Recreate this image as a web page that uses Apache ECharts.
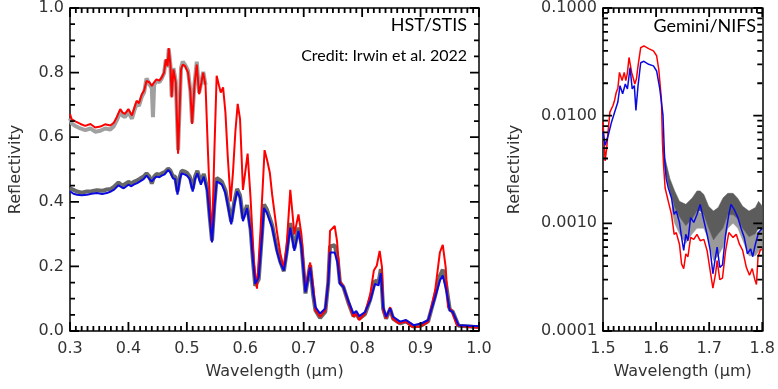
<!DOCTYPE html>
<html><head><meta charset="utf-8">
<script src="https://cdn.jsdelivr.net/npm/echarts@6/dist/echarts.min.js"></script>
<style>html,body{margin:0;padding:0;background:#fff}#c{width:778px;height:389px}</style>
</head><body><div id="c"></div>
<script>
// ---------------- HST/STIS panel (linear) ----------------
const stisXTicks = [0.3, 0.4, 0.5, 0.6, 0.7, 0.8, 0.9, 1.0];
const stisYTicks = [0.0, 0.2, 0.4, 0.6, 0.8, 1.0];

const stisRedX = [0.300,0.303,0.310,0.318,0.326,0.335,0.343,0.352,0.360,0.369,0.375,0.380,0.386,0.390,0.394,0.400,0.406,0.410,0.414,0.418,0.423,0.427,0.431,0.436,0.440,0.444,0.448,0.453,0.457,0.461,0.464,0.467,0.469,0.472,0.474,0.477,0.481,0.485,0.490,0.493,0.497,0.502,0.506,0.509,0.513,0.517,0.521,0.525,0.528,0.532,0.536,0.540,0.543,0.547,0.551,0.555,0.558,0.562,0.566,0.570,0.575,0.579,0.583,0.587,0.591,0.596,0.600,0.604,0.609,0.615,0.620,0.626,0.633,0.638,0.642,0.646,0.654,0.660,0.666,0.671,0.677,0.681,0.684,0.691,0.696,0.703,0.711,0.717,0.720,0.728,0.737,0.742,0.745,0.753,0.757,0.762,0.768,0.777,0.785,0.790,0.795,0.805,0.814,0.820,0.825,0.830,0.834,0.836,0.841,0.848,0.852,0.862,0.875,0.885,0.899,0.913,0.925,0.933,0.938,0.943,0.947,0.953,0.962,0.979,1.000];
const stisRedY = [0.672,0.655,0.648,0.641,0.635,0.641,0.630,0.633,0.640,0.636,0.645,0.662,0.687,0.676,0.672,0.687,0.667,0.690,0.713,0.705,0.733,0.745,0.774,0.770,0.759,0.770,0.779,0.775,0.785,0.800,0.841,0.820,0.876,0.820,0.723,0.810,0.769,0.549,0.810,0.825,0.820,0.800,0.740,0.641,0.760,0.825,0.733,0.770,0.800,0.759,0.560,0.380,0.280,0.550,0.790,0.760,0.738,0.754,0.677,0.540,0.401,0.493,0.616,0.703,0.657,0.437,0.493,0.549,0.412,0.207,0.131,0.310,0.560,0.524,0.490,0.422,0.310,0.240,0.192,0.269,0.437,0.360,0.299,0.361,0.300,0.125,0.212,0.126,0.064,0.044,0.064,0.156,0.310,0.325,0.279,0.156,0.136,0.085,0.044,0.054,0.034,0.054,0.115,0.187,0.202,0.248,0.197,0.064,0.039,0.074,0.039,0.024,0.029,0.013,0.013,0.029,0.126,0.243,0.267,0.197,0.074,0.064,0.018,0.013,0.010];

const stisBlueX = [0.300,0.306,0.312,0.320,0.329,0.337,0.346,0.355,0.363,0.370,0.375,0.383,0.388,0.392,0.400,0.405,0.409,0.415,0.420,0.426,0.431,0.436,0.440,0.444,0.448,0.453,0.457,0.462,0.468,0.472,0.476,0.480,0.484,0.488,0.491,0.496,0.500,0.505,0.510,0.514,0.518,0.524,0.529,0.535,0.539,0.543,0.547,0.551,0.556,0.560,0.566,0.571,0.576,0.581,0.586,0.591,0.596,0.603,0.609,0.613,0.617,0.623,0.628,0.632,0.637,0.646,0.654,0.660,0.666,0.671,0.677,0.681,0.684,0.691,0.696,0.703,0.711,0.716,0.720,0.728,0.737,0.742,0.745,0.753,0.758,0.762,0.768,0.777,0.785,0.790,0.795,0.805,0.814,0.822,0.828,0.832,0.836,0.841,0.848,0.853,0.865,0.875,0.888,0.902,0.913,0.925,0.933,0.938,0.944,0.950,0.955,0.965,1.000];
const stisBlueY = [0.432,0.425,0.422,0.420,0.422,0.425,0.427,0.424,0.427,0.432,0.437,0.451,0.445,0.442,0.453,0.448,0.453,0.458,0.463,0.470,0.481,0.470,0.463,0.472,0.478,0.476,0.481,0.485,0.499,0.490,0.473,0.470,0.422,0.470,0.488,0.485,0.481,0.470,0.432,0.470,0.488,0.453,0.478,0.432,0.350,0.274,0.380,0.463,0.458,0.453,0.427,0.380,0.330,0.390,0.432,0.412,0.340,0.381,0.310,0.220,0.146,0.166,0.280,0.381,0.366,0.320,0.248,0.210,0.187,0.240,0.320,0.280,0.248,0.310,0.260,0.120,0.197,0.120,0.074,0.054,0.070,0.150,0.243,0.243,0.210,0.146,0.136,0.090,0.054,0.062,0.046,0.059,0.095,0.146,0.141,0.179,0.074,0.044,0.070,0.044,0.029,0.034,0.018,0.024,0.034,0.105,0.156,0.172,0.126,0.064,0.059,0.018,0.015];

// observed data envelope (dark grey, blue-model case)
const stisGreyDarkY = [0.442,0.437,0.432,0.428,0.432,0.433,0.436,0.434,0.438,0.440,0.446,0.460,0.452,0.452,0.462,0.456,0.462,0.466,0.472,0.478,0.488,0.478,0.456,0.478,0.486,0.484,0.488,0.492,0.503,0.496,0.480,0.478,0.432,0.478,0.496,0.494,0.490,0.478,0.440,0.478,0.496,0.462,0.486,0.440,0.356,0.280,0.388,0.474,0.468,0.462,0.436,0.388,0.338,0.398,0.440,0.420,0.348,0.390,0.316,0.220,0.140,0.160,0.285,0.392,0.376,0.328,0.255,0.214,0.185,0.246,0.334,0.292,0.256,0.320,0.268,0.116,0.204,0.114,0.064,0.040,0.060,0.150,0.262,0.266,0.225,0.150,0.136,0.085,0.046,0.054,0.038,0.052,0.098,0.156,0.150,0.192,0.068,0.038,0.068,0.038,0.024,0.030,0.014,0.018,0.030,0.110,0.170,0.190,0.140,0.066,0.060,0.016,0.012];

// observed data envelope (light grey, red-model case)
const stisGreyLightX = [0.300,0.303,0.310,0.318,0.326,0.335,0.343,0.352,0.360,0.369,0.375,0.380,0.386,0.390,0.394,0.400,0.406,0.410,0.414,0.418,0.423,0.427,0.431,0.436,0.440,0.442,0.444,0.448,0.453,0.457,0.461,0.464,0.467,0.469,0.472,0.474,0.477,0.481,0.485,0.490,0.493,0.497,0.502,0.506,0.509,0.513,0.517,0.521,0.525,0.528,0.532];
const stisGreyLightY = [0.658,0.642,0.634,0.627,0.622,0.627,0.617,0.620,0.627,0.624,0.634,0.652,0.678,0.667,0.662,0.678,0.657,0.682,0.704,0.697,0.726,0.740,0.782,0.764,0.752,0.662,0.762,0.774,0.770,0.782,0.798,0.840,0.817,0.874,0.820,0.726,0.814,0.774,0.560,0.814,0.834,0.824,0.806,0.744,0.645,0.764,0.834,0.737,0.772,0.802,0.762];

// ---------------- Gemini/NIFS panel (log) ----------------
const nifsXTicks = [1.5, 1.6, 1.7, 1.8];
const nifsYTicks = [0.0001, 0.001, 0.01, 0.1];
const nifsMinorY = [0.0002,0.0003,0.0004,0.0005,0.0006,0.0007,0.0008,0.0009,0.002,0.003,0.004,0.005,0.006,0.007,0.008,0.009,0.02,0.03,0.04,0.05,0.06,0.07,0.08,0.09];

const nifsRedX = [1.500,1.504,1.507,1.510,1.513,1.519,1.522,1.525,1.528,1.531,1.536,1.540,1.543,1.546,1.549,1.554,1.560,1.563,1.566,1.571,1.577,1.586,1.595,1.601,1.605,1.610,1.612,1.614,1.617,1.623,1.629,1.634,1.638,1.644,1.648,1.652,1.656,1.660,1.665,1.671,1.677,1.683,1.690,1.696,1.702,1.707,1.712,1.715,1.720,1.725,1.731,1.737,1.745,1.751,1.757,1.763,1.770,1.776,1.781,1.786,1.789,1.792,1.796,1.800];
const nifsRedY = [0.0088,0.0038,0.0050,0.0075,0.0108,0.0125,0.0140,0.0165,0.0180,0.0252,0.0212,0.0252,0.0212,0.0250,0.0347,0.0252,0.0197,0.0220,0.0290,0.0428,0.0444,0.0420,0.0400,0.0360,0.0270,0.0143,0.0057,0.0035,0.00213,0.0016,0.00121,0.00079,0.00082,0.00064,0.00042,0.00038,0.00052,0.00049,0.00074,0.00071,0.00079,0.00069,0.00071,0.00056,0.00036,0.00025,0.00034,0.00045,0.00030,0.00031,0.00056,0.00082,0.00074,0.00079,0.00064,0.00056,0.00039,0.00033,0.00038,0.00030,0.00027,0.00049,0.00056,0.00058];

const nifsBlueX = [1.500,1.504,1.510,1.516,1.522,1.528,1.532,1.537,1.542,1.546,1.551,1.555,1.559,1.562,1.566,1.571,1.577,1.586,1.595,1.601,1.607,1.613,1.616,1.619,1.623,1.629,1.634,1.638,1.644,1.648,1.652,1.656,1.660,1.665,1.671,1.677,1.683,1.688,1.696,1.702,1.707,1.712,1.715,1.720,1.725,1.731,1.737,1.741,1.747,1.754,1.760,1.766,1.772,1.778,1.782,1.787,1.793,1.800];
const nifsBlueY = [0.0071,0.0053,0.0066,0.0087,0.0108,0.0134,0.0190,0.0160,0.0197,0.0177,0.0280,0.0177,0.0190,0.0112,0.0190,0.0310,0.0320,0.0300,0.0290,0.0260,0.0177,0.0101,0.0040,0.0026,0.00213,0.00172,0.00121,0.00130,0.00102,0.00074,0.00056,0.00079,0.00069,0.00113,0.00102,0.00121,0.00150,0.00117,0.00079,0.00056,0.00034,0.00049,0.00060,0.00039,0.00041,0.00079,0.00121,0.00150,0.00135,0.00113,0.00090,0.00074,0.00052,0.00058,0.00049,0.00064,0.00082,0.00090];

const nifsDarkX    = [1.612,1.617,1.626,1.635,1.644,1.656,1.668,1.677,1.683,1.690,1.699,1.708,1.717,1.726,1.735,1.745,1.754,1.763,1.775,1.787,1.793,1.800];
const nifsDarkHigh = [0.0065,0.0040,0.0026,0.0020,0.0016,0.0015,0.00172,0.0020,0.0020,0.00185,0.00144,0.0013,0.0014,0.00172,0.0019,0.0019,0.0017,0.00144,0.0013,0.0014,0.0016,0.00144];
const nifsDarkLow  = [0.0050,0.0031,0.0020,0.0014,0.00115,0.00095,0.0011,0.0013,0.0013,0.0012,0.0009,0.0007,0.0008,0.0009,0.0012,0.0012,0.0011,0.0009,0.00075,0.0008,0.0009,0.0009];

const nifsLightX    = [1.630,1.635,1.644,1.656,1.668,1.677,1.690,1.699,1.708,1.717,1.726,1.735,1.745,1.754,1.763,1.775,1.787,1.800];
const nifsLightHigh = [0.0016,0.0014,0.00115,0.00095,0.0011,0.0013,0.0012,0.0009,0.0007,0.0008,0.0009,0.0012,0.0012,0.0011,0.0009,0.00075,0.0008,0.0009];
const nifsLightLow  = [0.0013,0.0010,0.0008,0.00065,0.0008,0.0009,0.0009,0.0007,0.00045,0.0005,0.0006,0.0009,0.0010,0.0009,0.0007,0.0005,0.0005,0.0006];

// ---------------- build ----------------
const zip = (xs, ys) => xs.map((x, i) => [x, ys[i]]);
const FONT = 'DejaVu Sans';
const LBL = { fontFamily: FONT, fontSize: 16, color: '#333' };
const NAME = { fontFamily: FONT, fontSize: 16, color: '#333' };

function subdivide(major, n) {
  const out = [];
  for (let i = 0; i < major.length - 1; i++) {
    const step = (major[i + 1] - major[i]) / n;
    for (let k = 1; k < n; k++) out.push(major[i] + k * step);
  }
  return out;
}

function axLine() { return { show: true, onZero: false, lineStyle: { color: '#000', width: 1.5 } }; }

function xAxisDef(grid, ticks, pos, withLabel, name) {
  const iv = +(ticks[1] - ticks[0]).toFixed(6);
  return {
    type: 'value', gridIndex: grid, position: pos,
    min: ticks[0], max: ticks[ticks.length - 1], interval: iv,
    axisLine: axLine(), axisTick: { show: false }, splitLine: { show: false },
    axisLabel: withLabel ? Object.assign({ margin: 10, formatter: v => v.toFixed(1) }, LBL) : { show: false },
    name: name || '', nameLocation: 'middle', nameGap: 33, nameTextStyle: NAME
  };
}

// One comb-shaped polygon per frame side: tick marks placed through the axes' own scales.
// side: 0 bottom, 1 top, 2 left, 3 right
function combSeries(xi, yi, side, majors, minors, xr, yr, anchor) {
  return {
    type: 'custom', xAxisIndex: xi, yAxisIndex: yi, silent: true, z: 5, clip: false,
    data: [anchor],
    renderItem: function (params, api) {
      const all = majors.map(v => [v, 9]).concat(minors.map(v => [v, 5])).sort((a, b) => a[0] - b[0]);
      const pts = [];
      const h = 0.9;
      all.forEach(function (t) {
        const v = t[0], len = t[1];
        let p;
        if (side === 0) { p = api.coord([v, yr[0]]); pts.push([p[0] - h, p[1]], [p[0] - h, p[1] - len], [p[0] + h, p[1] - len], [p[0] + h, p[1]]); }
        else if (side === 1) { p = api.coord([v, yr[1]]); pts.push([p[0] - h, p[1]], [p[0] - h, p[1] + len], [p[0] + h, p[1] + len], [p[0] + h, p[1]]); }
        else if (side === 2) { p = api.coord([xr[0], v]); pts.push([p[0], p[1] - h], [p[0] + len, p[1] - h], [p[0] + len, p[1] + h], [p[0], p[1] + h]); }
        else { p = api.coord([xr[1], v]); pts.push([p[0], p[1] - h], [p[0] - len, p[1] - h], [p[0] - len, p[1] + h], [p[0], p[1] + h]); }
      });
      return { type: 'polygon', shape: { points: pts }, style: { fill: '#000' } };
    }
  };
}

function frameTicks(xi, yi, xMaj, xMin, yMaj, yMin, anchor) {
  const xr = [xMaj[0], xMaj[xMaj.length - 1]], yr = [yMaj[0], yMaj[yMaj.length - 1]];
  return [
    combSeries(xi, yi, 0, xMaj, xMin, xr, yr, anchor),
    combSeries(xi, yi, 1, xMaj, xMin, xr, yr, anchor),
    combSeries(xi, yi, 2, yMaj, yMin, xr, yr, anchor),
    combSeries(xi, yi, 3, yMaj, yMin, xr, yr, anchor)
  ];
}

function bandSeries(xs, lo, hi, color) {
  return {
    type: 'custom', xAxisIndex: 2, yAxisIndex: 2, silent: true, z: 2, clip: true,
    data: [[xs[0], hi[0]]],
    renderItem: function (params, api) {
      const pts = [];
      for (let i = 0; i < xs.length; i++) pts.push(api.coord([xs[i], hi[i]]));
      for (let i = xs.length - 1; i >= 0; i--) pts.push(api.coord([xs[i], lo[i]]));
      return { type: 'polygon', shape: { points: pts }, style: { fill: color, stroke: color, lineWidth: 0.5 } };
    }
  };
}

const tickSeries = frameTicks(0, 0, stisXTicks, subdivide(stisXTicks, 10), stisYTicks, subdivide(stisYTicks, 4), [0.65, 0.5])
  .concat(frameTicks(2, 2, nifsXTicks, subdivide(nifsXTicks, 10), nifsYTicks, nifsMinorY, [1.65, 0.003]));

const dataSeries = [
  { type: 'line', xAxisIndex: 0, yAxisIndex: 0, data: zip(stisGreyLightX, stisGreyLightY), showSymbol: false, lineStyle: { color: '#a0a0a0', width: 4 }, z: 1 },
  { type: 'line', xAxisIndex: 0, yAxisIndex: 0, data: zip(stisBlueX, stisGreyDarkY), showSymbol: false, lineStyle: { color: '#686868', width: 4 }, z: 1 },
  { type: 'line', xAxisIndex: 0, yAxisIndex: 0, data: zip(stisRedX, stisRedY), showSymbol: false, lineStyle: { color: '#ff0000', width: 2 }, z: 3 },
  { type: 'line', xAxisIndex: 0, yAxisIndex: 0, data: zip(stisBlueX, stisBlueY), showSymbol: false, lineStyle: { color: '#0a0ae0', width: 2 }, z: 4 },
  bandSeries(nifsLightX, nifsLightLow, nifsLightHigh, '#9a9a9a'),
  bandSeries(nifsDarkX, nifsDarkLow, nifsDarkHigh, '#5c5c5c'),
  { type: 'line', xAxisIndex: 2, yAxisIndex: 2, data: zip(nifsRedX, nifsRedY), showSymbol: false, lineStyle: { color: '#ff0000', width: 1.5 }, z: 3 },
  { type: 'line', xAxisIndex: 2, yAxisIndex: 2, data: zip(nifsBlueX, nifsBlueY), showSymbol: false, lineStyle: { color: '#0a0ae0', width: 1.5 }, z: 4 }
];

const option = {
  animation: false,
  grid: [
    { left: 69, top: 5, width: 410, height: 326 },
    { left: 603, top: 5, width: 164, height: 326 }
  ],
  xAxis: [
    xAxisDef(0, stisXTicks, 'bottom', true, 'Wavelength (\u03bcm)'),
    xAxisDef(0, stisXTicks, 'top', false),
    xAxisDef(1, nifsXTicks, 'bottom', true, 'Wavelength (\u03bcm)'),
    xAxisDef(1, nifsXTicks, 'top', false)
  ],
  yAxis: [
    {
      type: 'value', gridIndex: 0, position: 'left', min: stisYTicks[0], max: stisYTicks[stisYTicks.length - 1], interval: 0.2,
      axisLine: axLine(), axisTick: { show: false }, splitLine: { show: false },
      axisLabel: Object.assign({ margin: 6, formatter: v => v.toFixed(1) }, LBL),
      name: 'Reflectivity', nameLocation: 'middle', nameGap: 46, nameTextStyle: NAME
    },
    {
      type: 'value', gridIndex: 0, position: 'right', min: 0, max: 1, interval: 0.2,
      axisLine: axLine(), axisTick: { show: false }, splitLine: { show: false }, axisLabel: { show: false }
    },
    {
      type: 'log', logBase: 10, gridIndex: 1, position: 'left', min: nifsYTicks[0], max: nifsYTicks[nifsYTicks.length - 1],
      axisLine: axLine(), axisTick: { show: false }, splitLine: { show: false },
      axisLabel: Object.assign({ margin: 6, formatter: v => v.toFixed(4) }, LBL),
      name: 'Reflectivity', nameLocation: 'middle', nameGap: 80, nameTextStyle: NAME
    },
    {
      type: 'log', logBase: 10, gridIndex: 1, position: 'right', min: 0.0001, max: 0.1,
      axisLine: axLine(), axisTick: { show: false }, splitLine: { show: false }, axisLabel: { show: false }
    }
  ],
  series: tickSeries.concat(dataSeries),
  graphic: [
    { type: 'text', x: 467, y: 25, style: { text: 'HST/STIS', font: '18px Lato', fill: '#000', align: 'right', verticalAlign: 'middle' } },
    { type: 'text', x: 467, y: 56, style: { text: 'Credit: Irwin et al. 2022', font: '16px Lato', fill: '#000', align: 'right', verticalAlign: 'middle' } },
    { type: 'text', x: 756, y: 26, style: { text: 'Gemini/NIFS', font: '18px Lato', fill: '#000', align: 'right', verticalAlign: 'middle' } }
  ]
};

const chart = echarts.init(document.getElementById('c'));
chart.setOption(option);
</script>
</body></html>
